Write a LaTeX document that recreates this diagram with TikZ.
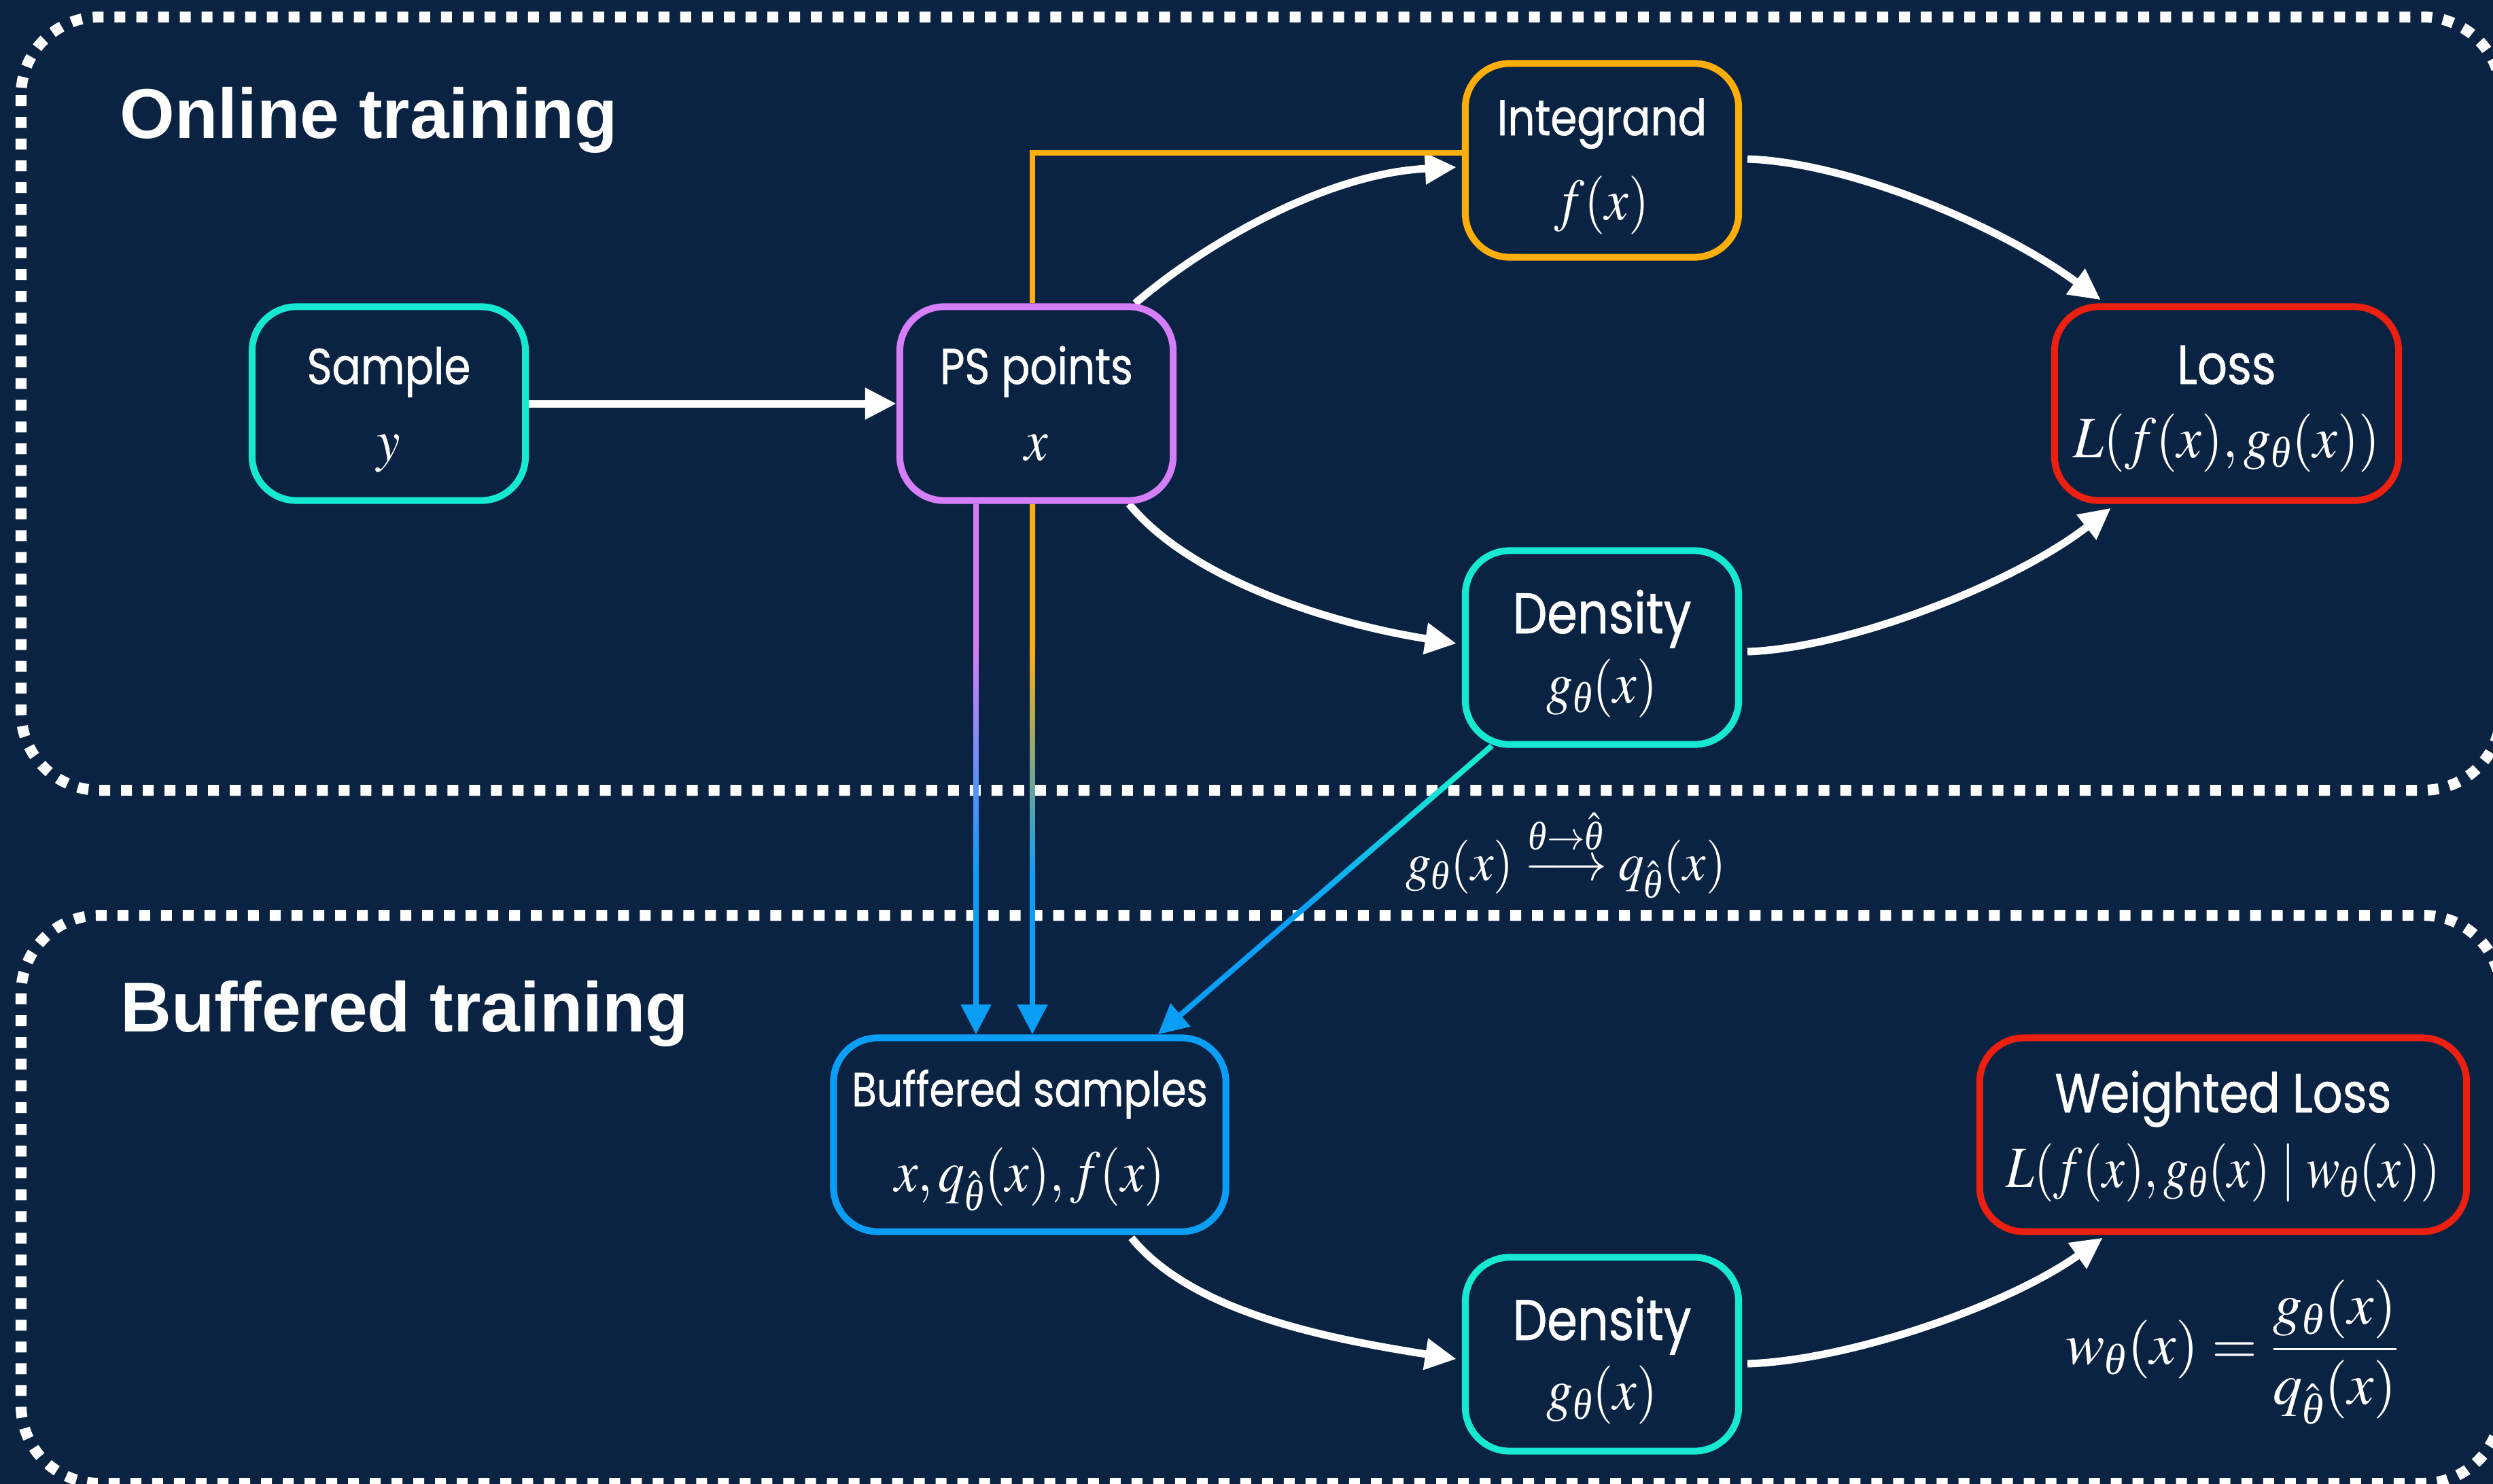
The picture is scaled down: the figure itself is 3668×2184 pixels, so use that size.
\documentclass[tikz,border=0pt]{standalone}
\usepackage{amsmath}
\usepackage{mathptmx}
\usepackage[no-math]{fontspec}
\newfontfamily\titlefont{Liberation Sans}
\newfontfamily\labfont[FakeStretch=0.85,FakeBold=0.8]{Poppins}
\newfontfamily\timesf{Liberation Serif}
\usetikzlibrary{arrows.meta,calc}
\pgfdeclarelayer{back}
\pgfdeclarelayer{mid}
\pgfsetlayers{back,mid,main}

\definecolor{bgc}{HTML}{0B2342}
\definecolor{cteal}{HTML}{16E8D2}
\definecolor{cpurple}{HTML}{D67EF7}
\definecolor{corange}{HTML}{FDAE0A}
\definecolor{cred}{HTML}{EC2010}
\definecolor{cblue}{HTML}{0A9EF7}

\newcommand\thet{\text{\timesf\itshape θ}}
\newcommand\sqz[2][0.9]{\scalebox{#1}[1]{$#2$}}

\tikzset{
  box/.style={draw=#1, fill=bgc, line width=1mm, rounded corners=0.65cm,
    minimum width=4.02cm, minimum height=2.85cm, inner sep=0pt},
  lab/.style={text=white, font=\labfont\fontsize{#1}{#1}\selectfont, anchor=base, inner sep=0pt},
  lab/.default=21,
  mth/.style={text=white, font=\fontsize{24.5}{29}\selectfont, anchor=base, inner sep=0pt},
  title/.style={text=white, font=\titlefont\bfseries\fontsize{29.5}{34}\selectfont, anchor=base west, inner sep=0pt},
  flow/.style={draw=white, line width=1.1mm, -{Triangle[length=4.6mm,width=4.4mm]}},
  cline/.style={draw=#1, line width=0.8mm, -{Triangle[length=4.4mm,width=4.3mm]}},
  zone/.style={draw=white, line width=1.6mm, dash pattern=on 1.6mm off 1.6mm, rounded corners=1.15cm},
}

\newcommand\gradline[6]{%
  \draw[line width=0.8mm, draw=#3] (#1) -- ($(#1)!#5!(#2)$);
  \foreach \k in {0,...,39}{%
    \pgfmathsetmacro\ta{#5+(#6-#5)*\k/40}%
    \pgfmathsetmacro\tb{#5+(#6-#5)*(\k+1.25)/40}%
    \pgfmathtruncatemacro\pc{round(100-100*\k/39)}%
    \draw[line width=0.8mm, draw=#3!\pc!#4] ($(#1)!\ta!(#2)$) -- ($(#1)!\tb!(#2)$);
  }%
}

\begin{document}
\begin{tikzpicture}[x=0.01cm,y=-0.01cm]
\useasboundingbox (0,0) rectangle (3668,2184);
\begin{pgfonlayer}{back}
  \fill[bgc] (0,0) rectangle (3668,2184);
  \draw[zone] (31,25) rectangle (3680,1163);
  \draw[zone] (31,1347) rectangle (3680,2183);
\end{pgfonlayer}

% titles
\node[title] (t1) at (176,203) {Online training};
\node[title] (t2) at (177,1518) {Buffered training};

% boxes
\node[box=cteal] (sample) at (572,594) {};
\node[box=cpurple] (ps) at (1525,594) {};
\node[box=corange] (integ) at (2357,236) {};
\node[box=cred, minimum width=5.06cm] (loss) at (3276,594) {};
\node[box=cteal] (dens) at (2357,953) {};
\node[box=cblue, minimum width=5.77cm] (buf) at (1515,1670) {};
\node[box=cteal] (dens2) at (2357,1993) {};
\node[box=cred, minimum width=7.16cm] (wloss) at (3271,1670) {};

% labels
\node[lab] (sampleT) at ($(sample.center)+(0,-29)$) {Sample};
\node[mth] (sampleM) at ($(sample.center)+(0,83)$) {\sqz{y}};
\node[lab] (psT) at ($(ps.center)+(0,-29)$) {PS points};
\node[mth] (psM) at ($(ps.center)+(0,83)$) {\sqz{x}};
\node[lab] (integT) at ($(integ.center)+(0,-37)$) {Integrand};
\node[mth] (integM) at ($(integ.center)+(0,87)$) {\sqz{f(x)}};
\node[lab=23] (lossT) at ($(loss.center)+(0,-29)$) {Loss};
\node[mth] (lossM) at ($(loss.center)+(0,79)$) {\sqz[0.93]{L(f(x),g_\thet(x))}};
\node[lab=24] (densT) at ($(dens.center)+(0,-21)$) {Density};
\node[mth] (densM) at ($(dens.center)+(0,81)$) {\sqz{g_\thet(x)}};
\node[lab=20] (bufT) at ($(buf.center)+(0,-42)$) {Buffered samples};
\node[mth] (bufM) at ($(buf.center)+(0,83)$) {\sqz{x,q_{\hat\thet}(x),f(x)}};
\node[lab=24] (dens2T) at ($(dens2.center)+(0,-21)$) {Density};
\node[mth] (dens2M) at ($(dens2.center)+(0,81)$) {\sqz{g_\thet(x)}};
\node[lab=23] (wlossT) at ($(wloss.center)+(0,-33)$) {Weighted Loss};
\node[mth] (wlossM) at ($(wloss.center)+(0,77)$) {\sqz[0.86]{L(f(x),g_\thet(x)\mid w_\thet(x))}};

% annotations
\node[text=white, font=\fontsize{22.5}{26}\selectfont, anchor=base, inner sep=0pt] (thlab) at (2304,1295)
  {\sqz[0.95]{g_\thet(x)\stackrel{\thet\to\hat\thet}{\longrightarrow}q_{\hat\thet}(x)}};
\node[text=white, font=\fontsize{24.5}{29}\selectfont, inner sep=0pt] (wform) at (3285,1990)
  {\sqz[1.0]{w_\thet(x)=\dfrac{g_\thet(x)}{q_{\hat\thet}(x)}}};

% connectors
\coordinate (pv1) at ($(ps.south)+(-89,0)$);
\coordinate (pv2) at (pv1 |- buf.north);
\coordinate (ov1) at ($(ps.south)+(-6,0)$);
\coordinate (ov2) at (ov1 |- buf.north);
\coordinate (ot) at ($(ps.north)+(-6,0)$);
\coordinate (dg1) at ($(dens.south west)+(44,-3)$);
\coordinate (dg2) at ($(buf.north east)+(-105,0)$);

\begin{pgfonlayer}{mid}
  \draw[flow] (sample.east) -- (ps.west);
  \draw[flow] ($(ps.north east)+(-61,0)$) .. controls +(105,-90) and +(-190,9) .. ($(integ.west)+(-8,10)$);
  \draw[flow] ($(ps.south east)+(-70,0)$) .. controls +(90,110) and +(-190,-30) .. ($(dens.west)+(-8,-6)$);
  \draw[flow] ($(integ.east)+(8,-2)$) .. controls +(150,5) and +(-150,-110) .. ($(loss.north west)+(73,-5)$);
  \draw[flow] ($(dens.east)+(8,6)$) .. controls +(150,-5) and +(-140,110) .. ($(loss.south west)+(88,6)$);
  \draw[flow] ($(buf.south east)+(-144,4)$) .. controls +(90,110) and +(-190,-30) .. ($(dens2.west)+(-8,7)$);
  \draw[flow] ($(dens2.east)+(8,14)$) .. controls +(150,-5) and +(-140,100) .. ($(wloss.south west)+(186,4)$);

  \draw[draw=corange, line width=0.8mm] (ot) |- ($(integ.west)+(0,-11)$);

  \draw[cline=cblue] (pv1) -- (pv2);
  \draw[cline=cblue] (ov1) -- (ov2);
  \draw[cline=cblue] (dg1) -- (dg2);
  \gradline{pv1}{pv2}{cpurple}{cblue}{0.27}{0.70}
  \gradline{ov1}{ov2}{corange}{cblue}{0.27}{0.71}
  \gradline{dg1}{dg2}{cteal}{cblue}{0.12}{0.58}
\end{pgfonlayer}
\end{tikzpicture}
\end{document}
